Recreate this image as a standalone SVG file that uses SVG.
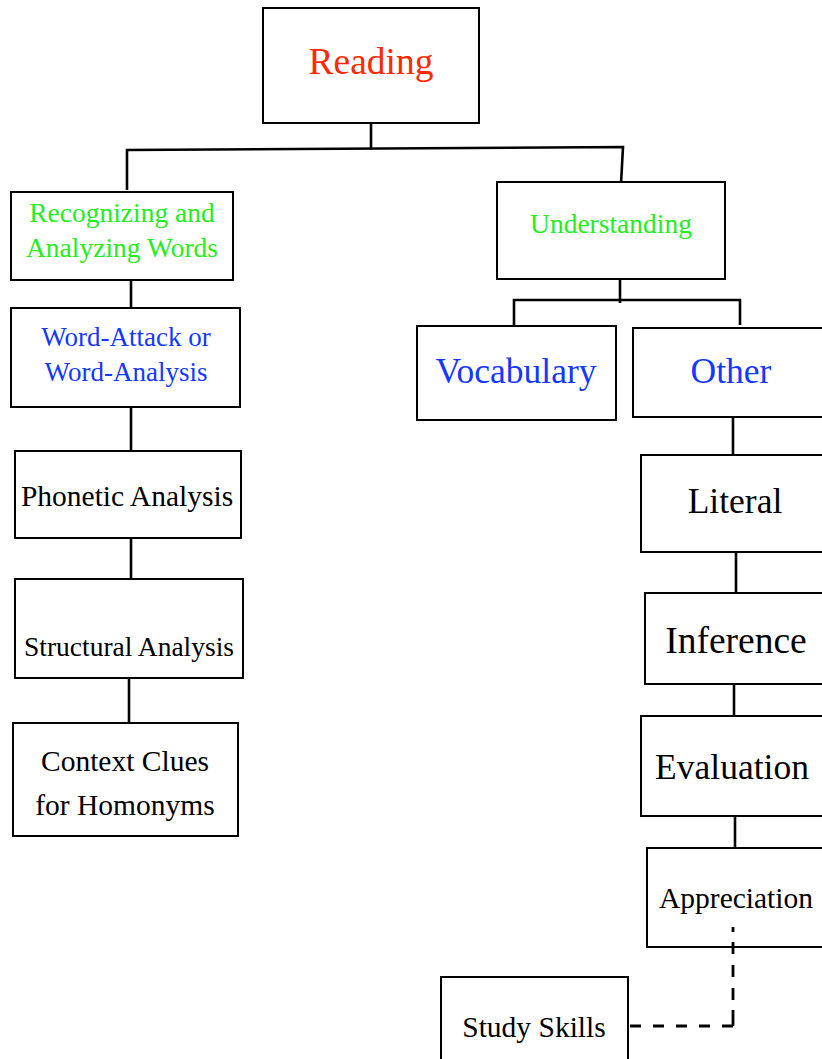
<svg xmlns="http://www.w3.org/2000/svg" width="822" height="1059" viewBox="0 0 822 1059">
<style>
.box{fill:#fff;stroke:#000;stroke-width:2}
.t{font-family:"Liberation Serif","Times New Roman",serif;text-anchor:middle;fill:#000}
.red{fill:#ff2a00}
.green{fill:#22ee22}
.blue{fill:#1438ff}
.con{fill:none;stroke:#000;stroke-width:2.6}
.dash{fill:none;stroke:#000;stroke-width:2.8}
</style>
<rect width="822" height="1059" fill="#fff"/>
<g id="connectors">
<path class="con" d="M371,123 V149"/>
<path class="con" d="M127,190 V150 L623,147 L621,184"/>
<path class="con" d="M131,280 V308"/>
<path class="con" d="M131,407 V451"/>
<path class="con" d="M131,538 V579"/>
<path class="con" d="M129,675 V723"/>
<path class="con" d="M620,279 V303"/>
<path class="con" d="M514,326 V300 H740 V325"/>
<path class="con" d="M733,417 V455"/>
<path class="con" d="M736,552 V593"/>
<path class="con" d="M734,684 V716"/>
<path class="con" d="M735,816 V848"/>
</g>
<g id="reading"><rect class="box" x="263" y="8" width="216" height="115"/><text class="t red" x="371" y="74" font-size="37.5">Reading</text></g>
<g id="recognizing"><rect class="box" x="11" y="192" width="222" height="88"/><text class="t green" x="122" y="222" font-size="27.5">Recognizing and</text><text class="t green" x="122" y="257" font-size="27.5">Analyzing Words</text></g>
<g id="understanding"><rect class="box" x="497" y="182" width="228" height="97"/><text class="t green" x="611" y="233" font-size="27.5">Understanding</text></g>
<g id="wordattack"><rect class="box" x="11" y="308" width="229" height="99"/><text class="t blue" x="126" y="346" font-size="27">Word-Attack or</text><text class="t blue" x="126" y="381" font-size="27">Word-Analysis</text></g>
<g id="phonetic"><rect class="box" x="15" y="451" width="226" height="87"/><text class="t" x="127" y="506" font-size="29.5">Phonetic Analysis</text></g>
<g id="structural"><rect class="box" x="15" y="579" width="228" height="99"/><text class="t" x="129" y="656" font-size="27.5">Structural Analysis</text></g>
<g id="context"><rect class="box" x="13" y="723" width="225" height="113"/><text class="t" x="125" y="771" font-size="29.5">Context Clues</text><text class="t" x="125" y="815" font-size="29.5">for Homonyms</text></g>
<g id="vocabulary"><rect class="box" x="417" y="326" width="199" height="94"/><text class="t blue" x="516" y="383" font-size="35.5">Vocabulary</text></g>
<g id="other"><rect class="box" x="633" y="328" width="200" height="89"/><text class="t blue" x="731" y="383" font-size="35.5">Other</text></g>
<g id="literal"><rect class="box" x="641" y="455" width="192" height="97"/><text class="t" x="735" y="513" font-size="35.5">Literal</text></g>
<g id="inference"><rect class="box" x="645" y="593" width="188" height="91"/><text class="t" x="736" y="653" font-size="37.5">Inference</text></g>
<g id="evaluation"><rect class="box" x="641" y="716" width="192" height="100"/><text class="t" x="732" y="779" font-size="35.5">Evaluation</text></g>
<g id="appreciation"><rect class="box" x="647" y="848" width="186" height="99"/><text class="t" x="736" y="908" font-size="29.5">Appreciation</text></g>
<g id="studyskills"><rect class="box" x="441" y="977" width="187" height="90"/><text class="t" x="534" y="1037" font-size="29.5">Study Skills</text></g>
<g id="dashed-connector">
<path class="dash" d="M733,1026 V942" stroke-dasharray="16 10 12 11 12 11 12 100"/>
<path class="dash" d="M733,1026 H628" stroke-dasharray="11 12"/>
<path class="dash" d="M733,927 V932"/>
</g>
</svg>
